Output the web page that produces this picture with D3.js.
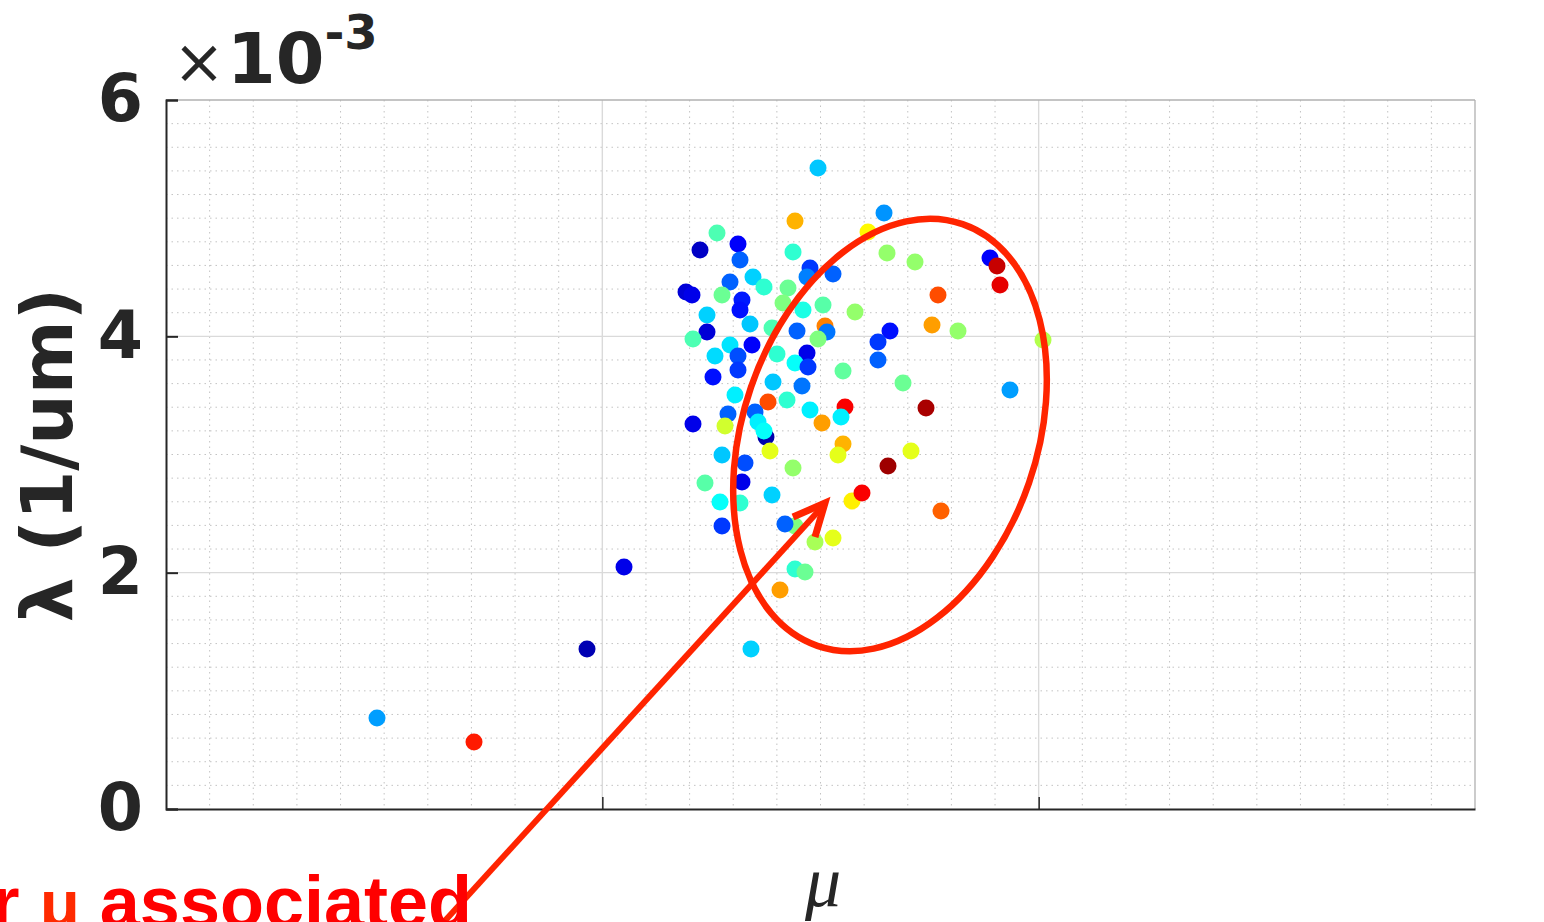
<!DOCTYPE html>
<html>
<head>
<meta charset="utf-8">
<script src="https://cdn.jsdelivr.net/npm/d3@7"></script>
<style>
  html, body { margin: 0; padding: 0; background: #ffffff; overflow: hidden; }
  svg { display: block; }
</style>
</head>
<body>
<svg id="chart" width="1544" height="922"></svg>
<script>
// ---------- data ----------
const muVals = [
  1.4943, 1.6456, 1.4416, 1.6089, 1.2628, 1.3109, 1.2238, 1.3155, 1.4370, 1.6524,
  1.7166, 1.8885, 1.9045, 1.9114, 1.4759, 1.4691, 1.5287, 1.2926, 1.3453, 1.3705,
  1.4255, 1.1918, 1.2055, 1.2743, 1.3201, 1.3155, 1.4141, 1.4599, 1.5058, 1.5791,
  1.7693, 1.2399, 1.3384, 1.2399, 1.2078, 1.3889, 1.4462, 1.5103, 1.5149, 1.4943,
  1.7556, 1.8151, 1.6593, 1.6318, 2.0100, 1.2926, 1.3430, 1.2582, 1.3109, 1.4691,
  1.4003, 1.4416, 1.4714, 1.6318, 1.5516, 1.3109, 1.2536, 1.3912, 1.4576, 1.6891,
  1.9343, 1.3041, 1.3797, 1.4232, 1.4759, 1.5562, 1.5470, 1.7418, 1.2880, 1.3499,
  1.2078, 1.2811, 1.3568, 1.3751, 1.3705, 1.5035, 1.5516, 1.5401, 1.3843, 1.7074,
  1.2743, 1.3270, 1.4370, 1.6547, 1.2353, 1.3201, 1.3889, 1.2697, 1.3155, 1.5722,
  1.5951, 1.7762, 1.2743, 1.4416, 1.4186, 1.4874, 1.5287, 1.4416, 1.4645, 1.4072,
  1.3407, 1.0497, 0.9649, 0.4836, 0.7059
];
const lambdaVals = [
  5.424, 5.044, 4.976, 4.883, 4.875, 4.781, 4.730, 4.646, 4.713, 4.705,
  4.629, 4.663, 4.595, 4.434, 4.578, 4.502, 4.527, 4.460, 4.502, 4.417,
  4.409, 4.375, 4.350, 4.350, 4.307, 4.223, 4.282, 4.223, 4.265, 4.206,
  4.350, 4.180, 4.104, 4.037, 3.977, 4.070, 4.045, 4.087, 4.037, 3.977,
  4.096, 4.045, 4.045, 3.952, 3.969, 3.927, 3.927, 3.833, 3.833, 3.859,
  3.850, 3.774, 3.740, 3.800, 3.707, 3.715, 3.656, 3.613, 3.580, 3.605,
  3.546, 3.503, 3.444, 3.461, 3.376, 3.402, 3.317, 3.393, 3.343, 3.360,
  3.258, 3.241, 3.275, 3.148, 3.199, 3.267, 3.089, 2.996, 3.030, 3.030,
  2.996, 2.928, 2.886, 2.903, 2.759, 2.767, 2.657, 2.598, 2.590, 2.606,
  2.674, 2.522, 2.395, 2.395, 2.412, 2.259, 2.293, 2.031, 2.006, 1.853,
  1.354, 2.048, 1.354, 0.770, 0.567
];
const colorVals = [
  0.32, 0.27, 0.70, 0.63, 0.45, 0.12, 0.06, 0.22, 0.42, 0.52,
  0.52, 0.12, 0.93, 0.90, 0.18, 0.25, 0.22, 0.22, 0.33, 0.42,
  0.48, 0.08, 0.10, 0.48, 0.15, 0.14, 0.50, 0.40, 0.46, 0.52,
  0.80, 0.33, 0.32, 0.08, 0.45, 0.45, 0.22, 0.75, 0.24, 0.50,
  0.72, 0.52, 0.14, 0.18, 0.55, 0.35, 0.12, 0.34, 0.20, 0.10,
  0.42, 0.38, 0.18, 0.22, 0.47, 0.18, 0.14, 0.32, 0.24, 0.48,
  0.28, 0.36, 0.80, 0.42, 0.36, 0.88, 0.36, 0.96, 0.22, 0.22,
  0.10, 0.58, 0.36, 0.03, 0.38, 0.72, 0.70, 0.60, 0.60, 0.60,
  0.32, 0.20, 0.52, 0.97, 0.46, 0.10, 0.33, 0.38, 0.42, 0.64,
  0.88, 0.78, 0.18, 0.50, 0.22, 0.54, 0.60, 0.42, 0.48, 0.72,
  0.33, 0.10, 0.04, 0.28, 0.85
];
const yTickVals = [0, 2, 4, 6];
const yTickLabels = ["0", "2", "4", "6"];
const xTickVals = [1, 2];
const xDomain = [0, 3];
const yDomain = [0, 6];
const yLabel = "\u03bb (1/um)";
const xLabel = "\u03bc";

// ---------- layout ----------
const svg = d3.select("#chart");
const L = 166, R = 1475, T = 100, B = 809;
const x = d3.scaleLinear().domain(xDomain).range([L, R]);
const y = d3.scaleLinear().domain(yDomain).range([B, T]);
const jet = d3.scaleLinear()
  .domain([0, 0.125, 0.375, 0.625, 0.875, 1])
  .range(["#00008f", "#0000ff", "#00ffff", "#ffff00", "#ff0000", "#800000"])
  .interpolate(d3.interpolateRgb);

// minor grid
const xMinor = d3.range(1, 30).map(i => i / 10).filter(v => Math.abs(v - Math.round(v)) > 1e-6);
const yMinor = d3.range(1, 30).map(i => i / 5).filter(v => Math.abs(v / 2 - Math.round(v / 2)) > 1e-6);
const g = svg.append("g");
g.selectAll(".xminor").data(xMinor).enter().append("line")
  .attr("x1", d => x(d)).attr("x2", d => x(d)).attr("y1", T).attr("y2", B)
  .attr("stroke", "#b0b0b0").attr("stroke-width", 1).attr("stroke-dasharray", "1.5,4").attr("opacity", 0.75);
g.selectAll(".yminor").data(yMinor).enter().append("line")
  .attr("y1", d => y(d)).attr("y2", d => y(d)).attr("x1", L).attr("x2", R)
  .attr("stroke", "#b0b0b0").attr("stroke-width", 1).attr("stroke-dasharray", "1.5,4").attr("opacity", 0.75);
// major grid
g.selectAll(".xmajor").data(xTickVals).enter().append("line")
  .attr("x1", d => x(d)).attr("x2", d => x(d)).attr("y1", T).attr("y2", B)
  .attr("stroke", "#dadada").attr("stroke-width", 1.4);
g.selectAll(".ymajor").data(yTickVals.filter(v => v > 0 && v < 6)).enter().append("line")
  .attr("y1", d => y(d)).attr("y2", d => y(d)).attr("x1", L).attr("x2", R)
  .attr("stroke", "#dadada").attr("stroke-width", 1.4);

// box (top/right light)
svg.append("line").attr("x1", L).attr("x2", R).attr("y1", T).attr("y2", T).attr("stroke", "#b0b0b0").attr("stroke-width", 1.3);
svg.append("line").attr("x1", R).attr("x2", R).attr("y1", T).attr("y2", B).attr("stroke", "#b0b0b0").attr("stroke-width", 1.3);

// axes
const yAxis = d3.axisLeft(y).tickValues(yTickVals).tickFormat((d, i) => yTickLabels[i]).tickSize(-12).tickPadding(23);
const yG = svg.append("g").attr("transform", `translate(${L},0)`).call(yAxis);
yG.select(".domain").attr("stroke", "#262626").attr("stroke-width", 2);
yG.selectAll(".tick line").attr("stroke", "#262626").attr("stroke-width", 2);
yG.selectAll(".tick text").attr("font-family", "DejaVu Sans").attr("font-weight", "bold")
  .attr("font-size", 65).attr("fill", "#262626");

const xAxis = d3.axisBottom(x).tickValues(xTickVals).tickFormat("").tickSize(-12).tickSizeOuter(0);
const xG = svg.append("g").attr("transform", `translate(0,${B})`).call(xAxis);
xG.select(".domain").attr("stroke", "#262626").attr("stroke-width", 2);
xG.selectAll(".tick line").attr("stroke", "#262626").attr("stroke-width", 1.5);

// exponent label
const ex = svg.append("text").attr("x", 173).attr("y", 83).attr("fill", "#262626").attr("font-family", "DejaVu Sans");
ex.append("tspan").attr("font-size", 62).text("\u00d7");
ex.append("tspan").attr("font-size", 70).attr("font-weight", "bold").attr("dx", 2).text("10");
ex.append("tspan").attr("font-size", 48).attr("font-weight", "bold").attr("dy", -34).text("-3");

// axis labels
svg.append("text").attr("transform", "translate(72,455) rotate(-90)")
  .attr("text-anchor", "middle").attr("font-family", "DejaVu Sans").attr("font-weight", "bold")
  .attr("font-size", 71).attr("fill", "#262626").text(yLabel);
svg.append("text").attr("x", 823).attr("y", 906).attr("text-anchor", "middle")
  .attr("font-family", "Liberation Serif").attr("font-style", "italic")
  .attr("font-size", 72).attr("fill", "#262626").text(xLabel);

// points
const pts = muVals.map((m, i) => ({ m, l: lambdaVals[i], c: colorVals[i] }));
svg.append("g").selectAll("circle").data(pts).enter().append("circle")
  .attr("cx", d => x(d.m)).attr("cy", d => y(d.l)).attr("r", 8.5)
  .attr("fill", d => jet(d.c));

// annotation: ellipse, arrow, text
const ann = svg.append("g");
ann.append("ellipse").attr("cx", 0).attr("cy", 0).attr("rx", 147).attr("ry", 223)
  .attr("transform", "translate(890,435) rotate(19)")
  .attr("fill", "none").attr("stroke", "#ff2400").attr("stroke-width", 6.5);
ann.append("line").attr("x1", 432).attr("y1", 935).attr("x2", 823).attr("y2", 506)
  .attr("stroke", "#ff2400").attr("stroke-width", 6);
ann.append("polyline").attr("points", "793,517 825,503 815,537")
  .attr("fill", "none").attr("stroke", "#ff2400").attr("stroke-width", 7)
  .attr("stroke-linejoin", "miter").attr("stroke-linecap", "butt");
const at = ann.append("text").attr("x", 472).attr("y", 927).attr("text-anchor", "end")
  .attr("font-family", "Liberation Sans").attr("font-weight", "bold").attr("font-size", 72)
  .attr("fill", "#ff0000");
at.append("tspan").text("for ");
at.append("tspan").attr("fill", "#ff2a00").attr("font-size", 66).text("\u03bc");
at.append("tspan").text(" associated");
</script>
</body>
</html>
